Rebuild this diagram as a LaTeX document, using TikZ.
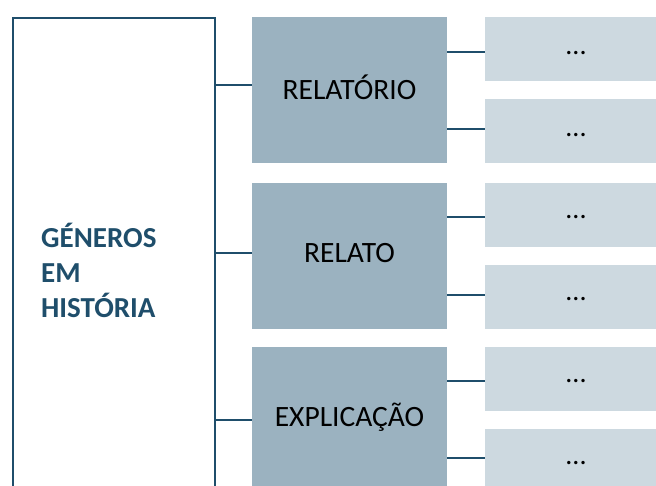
\documentclass[tikz,border=0pt]{standalone}
\usepackage{fontspec}
\setmainfont{Carlito}
\definecolor{linec}{HTML}{1F4E6B}
\definecolor{midc}{HTML}{9BB2C0}
\definecolor{rightc}{HTML}{CDD9E0}
\begin{document}
\begin{tikzpicture}[x=1pt,y=-1pt,
  midbox/.style={fill=midc,draw=none,minimum width=195pt,minimum height=146pt,inner sep=0pt},
  rbox/.style={fill=rightc,draw=none,minimum width=200pt,minimum height=64pt,inner sep=0pt},
  midtext/.style={font=\fontsize{29.5}{34}\selectfont,text=black,inner sep=0pt},
  dots/.style={font=\fontsize{28}{30}\selectfont,text=black,inner sep=0pt},
  conn/.style={draw=linec,line width=2pt}]
\useasboundingbox (0,0) rectangle (656,486);
\begin{scope}
\clip (0,0) rectangle (656,486);
\node[draw=linec,line width=2pt,minimum width=202pt,minimum height=490pt,anchor=north west,inner sep=0pt] (left) at (12,17) {};
\node[anchor=west,align=left,text=linec,inner sep=0pt,font=\fontsize{29}{35}\selectfont\bfseries] (lt) at (41,270) {GÉNEROS\\EM\\HISTÓRIA};
\node[midbox,anchor=north west] (m1) at (252,17) {};
\node[midbox,anchor=north west] (m2) at (252,183) {};
\node[midbox,anchor=north west] (m3) at (252,347) {};
\node[midtext] (t1) at (349.5,87) {RELATÓRIO};
\node[midtext] (t2) at (349.5,253) {RELATO};
\node[midtext] (t3) at (349.5,417) {EXPLICAÇÃO};
\node[rbox,anchor=north west] (r1) at (485,17) {};
\node[rbox,anchor=north west] (r2) at (485,99) {};
\node[rbox,anchor=north west] (r3) at (485,183) {};
\node[rbox,anchor=north west] (r4) at (485,265) {};
\node[rbox,anchor=north west] (r5) at (485,347) {};
\node[rbox,anchor=north west] (r6) at (485,429) {};
\foreach \i/\y in {1/53,2/135,3/217,4/299,5/381,6/463}{
  \node[dots] (d\i) at (576,\y) {...};
}
\draw[conn] (left.east |- 0,85) -- (m1.west |- 0,85);
\draw[conn] (left.east |- 0,253) -- (m2.west |- 0,253);
\draw[conn] (left.east |- 0,420) -- (m3.west |- 0,420);
\draw[conn] (m1.east |- 0,52) -- (r1.west |- 0,52);
\draw[conn] (m1.east |- 0,129) -- (r2.west |- 0,129);
\draw[conn] (m2.east |- 0,217) -- (r3.west |- 0,217);
\draw[conn] (m2.east |- 0,295) -- (r4.west |- 0,295);
\draw[conn] (m3.east |- 0,381) -- (r5.west |- 0,381);
\draw[conn] (m3.east |- 0,458) -- (r6.west |- 0,458);
\end{scope}
\end{tikzpicture}
\end{document}
